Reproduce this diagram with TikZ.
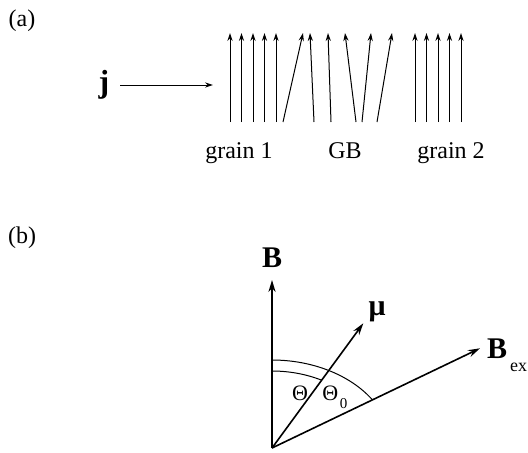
\documentclass[tikz,border=0pt]{standalone}
\usepackage{fontspec}
\setmainfont{Liberation Serif}
\usetikzlibrary{arrows.meta}

\begin{document}
\begin{tikzpicture}[x=0.5pt, y=0.5pt, >={Stealth[length=4pt,width=2.6pt]},
    field/.style={->, line width=0.5pt},
    vec/.style={-{Stealth[length=6pt,width=3.6pt]}, line width=0.8pt},
    lbl/.style={inner sep=0pt, font=\fontsize{12}{14}\selectfont}]
    \useasboundingbox (0,0) rectangle (528,452);

    % (a) current through the grain boundary
    \node[lbl] (tagA) at (22,431) {(a)};
    \node[inner sep=0pt, font=\fontsize{16}{18}\selectfont\bfseries] (j) at (104,367) {j};
    \coordinate (jtip) at (213,367);
    \draw[->, line width=0.5pt, shorten <=5.3pt] (j) -- (jtip);

    % grain 1 and grain 2
    \foreach \x in {230,241.5,253,264.5,276,415,426.5,438,449.5,461}
        \draw[field] (\x,330) -- (\x,419);
    % GB
    \foreach \a/\b in {283/303,314/310,331/328,356/345,362/371,377/392}
        \draw[field] (\a,330) -- (\b,419);

    \node[lbl, anchor=base] (grainA) at (239,294) {grain 1};
    \node[lbl, anchor=base] (gb) at (345,294) {GB};
    \node[lbl, anchor=base] (grainB) at (451,294) {grain 2};

    % (b) angles between the vectors
    \node[lbl] (tagB) at (22,214.5) {(b)};
    \coordinate (O) at (272,4);
    \coordinate (Btip) at (272,172);
    \coordinate (mutip) at (363.3,128.7);
    \coordinate (Bextip) at (480,103.7);
    \draw[vec] (O) -- (Btip);
    \draw[vec] (O) -- (mutip);
    \draw[vec] (O) -- (Bextip);
    \draw[line width=0.5pt] (O) ++(0,77) arc[start angle=90, end angle=61.7, x radius=52.4pt, y radius=38.5pt];
    \draw[line width=0.5pt] (O) ++(0,88) arc[start angle=90, end angle=33.2, x radius=60pt, y radius=44pt];

    \node[inner sep=0pt, font=\fontsize{15}{18}\selectfont\bfseries] (Blbl) at (272,194) {B};
    \node[inner sep=0pt, font=\fontsize{15}{18}\selectfont\bfseries] (mulbl) at (377,140) {μ};
    \node[inner sep=0pt, anchor=base west, font=\fontsize{15}{18}\selectfont\bfseries] (Bexlbl) at (486.7,94)
        {B\hspace{1.5pt}\raisebox{-6.5pt}{\fontsize{9}{10}\selectfont\mdseries ex}};
    \node[inner sep=0pt, font=\fontsize{11}{13}\selectfont] (thlbl) at (300,58.5) {Θ};
    \node[inner sep=0pt, anchor=base west, font=\fontsize{11}{13}\selectfont] (thzlbl) at (322,52)
        {Θ\hspace{0.8pt}\raisebox{-4pt}{\fontsize{7.5}{8}\selectfont 0}};
\end{tikzpicture}
\end{document}
